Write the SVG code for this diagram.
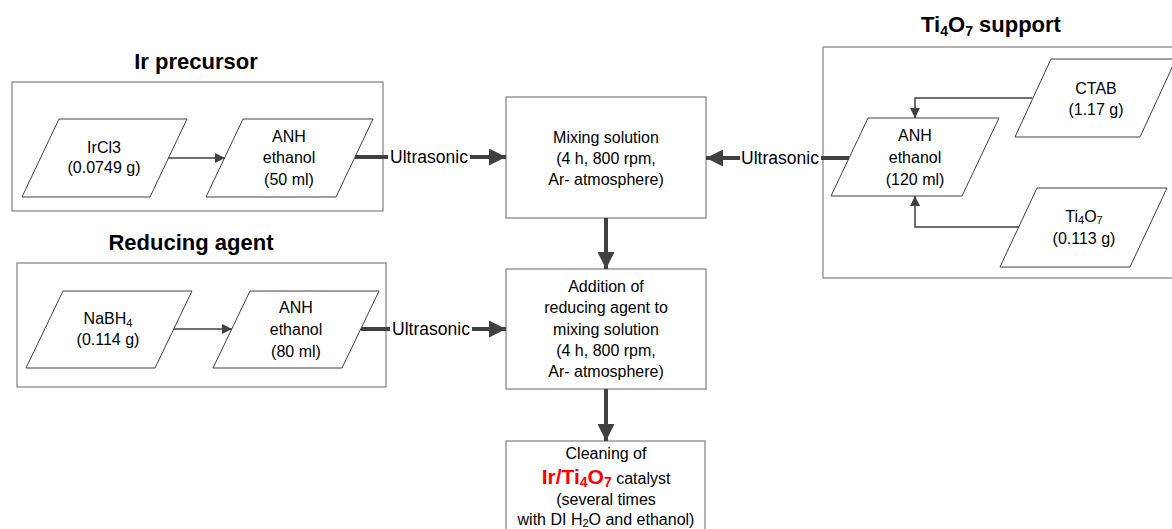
<svg xmlns="http://www.w3.org/2000/svg" width="1172" height="529" viewBox="0 0 1172 529">
  <style>
    .grp { fill: none; stroke: #808080; stroke-width: 1.2; }
    .proc { fill: #ffffff; stroke: #808080; stroke-width: 1.2; }
    .para { fill: #ffffff; stroke: #404040; stroke-width: 1; }
    .t { font-family: "Liberation Sans", Arial, sans-serif; font-size: 16px; fill: #000; text-anchor: middle; }
    .lbl { font-family: "Liberation Sans", Arial, sans-serif; font-size: 17.5px; fill: #000; text-anchor: middle; }
    .title { font-family: "Liberation Sans", Arial, sans-serif; font-size: 22px; font-weight: bold; fill: #000; text-anchor: middle; }
    .thin { fill: none; stroke: #404040; stroke-width: 1.5; }
    .thick { fill: none; stroke: #404040; stroke-width: 4; }
    .red { fill: #ff0000; font-weight: bold; font-size: 21px; }
    .red.sub { font-size: 14px; }
  </style>
  <defs>
    <marker id="ah" viewBox="0 0 10 10" refX="10" refY="5" markerWidth="10" markerHeight="10" markerUnits="userSpaceOnUse" orient="auto">
      <path d="M0,0 L10,5 L0,10 z" fill="#404040"/>
    </marker>
    <marker id="ahBig" viewBox="0 0 10 10" refX="10" refY="5" markerWidth="18" markerHeight="17" markerUnits="userSpaceOnUse" orient="auto">
      <path d="M0,0 L10,5 L0,10 z" fill="#404040"/>
    </marker>
  </defs>

  <rect width="1172" height="529" fill="#ffffff"/>

  <!-- Ir precursor group -->
  <g id="ir-precursor">
    <text class="title" x="196" y="69">Ir precursor</text>
    <rect class="grp" x="12" y="82" width="371" height="129"/>
  </g>
  <g id="ircl3">
    <polygon class="para" points="59,119 187,119 150,197 22,197"/>
    <text class="t" x="104" y="153">IrCl3</text>
    <text class="t" x="104" y="173">(0.0749 g)</text>
  </g>
  <g id="anh-ir">
    <polygon class="para" points="243,119 373,119 336,197 206,197"/>
    <text class="t" x="289" y="142">ANH</text>
    <text class="t" x="289" y="163">ethanol</text>
    <text class="t" x="289" y="185">(50 ml)</text>
  </g>

  <!-- Reducing agent group -->
  <g id="reducing-agent">
    <text class="title" x="191" y="250">Reducing agent</text>
    <rect class="grp" x="17" y="263" width="369" height="124"/>
  </g>
  <g id="nabh4">
    <polygon class="para" points="63,291 192,291 155,368 26,368"/>
    <text class="t" x="108" y="324">NaBH<tspan font-size="11" dy="3">4</tspan></text>
    <text class="t" x="108" y="345">(0.114 g)</text>
  </g>
  <g id="anh-red">
    <polygon class="para" points="250,291 379,291 342,368 213,368"/>
    <text class="t" x="296" y="313">ANH</text>
    <text class="t" x="296" y="335">ethanol</text>
    <text class="t" x="296" y="357">(80 ml)</text>
  </g>

  <!-- Ti4O7 support group -->
  <g id="ti4o7-support">
    <text class="title" x="991" y="32">Ti<tspan font-size="14" dy="4">4</tspan><tspan dy="-4">O</tspan><tspan font-size="14" dy="4">7</tspan><tspan dy="-4"> support</tspan></text>
    <rect class="grp" x="823" y="47" width="360" height="231"/>
  </g>
  <g id="ctab">
    <polygon class="para" points="1051,59 1176,59 1140,137 1015,137"/>
    <text class="t" x="1096" y="94">CTAB</text>
    <text class="t" x="1096" y="115">(1.17 g)</text>
  </g>
  <g id="anh-ti">
    <polygon class="para" points="868,118 999,118 962,196 831,196"/>
    <text class="t" x="915" y="141">ANH</text>
    <text class="t" x="915" y="163">ethanol</text>
    <text class="t" x="915" y="185">(120 ml)</text>
  </g>
  <g id="ti4o7">
    <polygon class="para" points="1037,188 1167,188 1130,267 1000,267"/>
    <text class="t" x="1084" y="222">Ti<tspan font-size="11" dy="2">4</tspan><tspan dy="-2">O</tspan><tspan font-size="11" dy="2">7</tspan></text>
    <text class="t" x="1084" y="244">(0.113 g)</text>
  </g>

  <!-- Process steps -->
  <g id="mixing">
    <rect class="proc" x="506" y="97" width="200" height="121"/>
    <text class="t" x="606" y="143">Mixing solution</text>
    <text class="t" x="606" y="164">(4 h, 800 rpm,</text>
    <text class="t" x="606" y="185">Ar- atmosphere)</text>
  </g>
  <g id="addition">
    <rect class="proc" x="506" y="269" width="200" height="120"/>
    <text class="t" x="606" y="292">Addition of</text>
    <text class="t" x="606" y="313">reducing agent to</text>
    <text class="t" x="606" y="335">mixing solution</text>
    <text class="t" x="606" y="356">(4 h, 800 rpm,</text>
    <text class="t" x="606" y="377">Ar- atmosphere)</text>
  </g>
  <g id="cleaning">
    <rect class="proc" x="506" y="441" width="199" height="100"/>
    <text class="t" x="606" y="459">Cleaning of</text>
    <text class="t" x="606" y="484"><tspan class="red">Ir/Ti</tspan><tspan class="red sub" dy="3">4</tspan><tspan class="red" dy="-3">O</tspan><tspan class="red sub" dy="3">7</tspan><tspan dy="-3"> catalyst</tspan></text>
    <text class="t" x="606" y="505">(several times</text>
    <text class="t" x="606" y="525">with DI H<tspan font-size="11" dy="2">2</tspan><tspan dy="-2">O and ethanol)</tspan></text>
  </g>

  <!-- Connectors -->
  <g id="connectors">
    <line class="thin" x1="168" y1="158" x2="225" y2="158" marker-end="url(#ah)"/>
    <line class="thin" x1="174" y1="329" x2="232" y2="329" marker-end="url(#ah)"/>
    <polyline class="thin" points="1032,98 915,98 915,118" marker-end="url(#ah)"/>
    <polyline class="thin" points="1019,227 915,227 915,196" marker-end="url(#ah)"/>

    <line class="thick" x1="355" y1="157" x2="506" y2="157" marker-end="url(#ahBig)"/>
    <line class="thick" x1="361" y1="329" x2="506" y2="329" marker-end="url(#ahBig)"/>
    <line class="thick" x1="849" y1="158" x2="706" y2="158" marker-end="url(#ahBig)"/>
    <line class="thick" x1="606" y1="218" x2="606" y2="269" marker-end="url(#ahBig)"/>
    <line class="thick" x1="606" y1="389" x2="606" y2="441" marker-end="url(#ahBig)"/>

    <rect x="388" y="147" width="82" height="20" fill="#ffffff"/>
    <text class="lbl" x="429" y="163">Ultrasonic</text>
    <rect x="390" y="319" width="82" height="20" fill="#ffffff"/>
    <text class="lbl" x="431" y="335">Ultrasonic</text>
    <rect x="740" y="148" width="81" height="20" fill="#ffffff"/>
    <text class="lbl" x="780" y="164">Ultrasonic</text>
  </g>
</svg>
